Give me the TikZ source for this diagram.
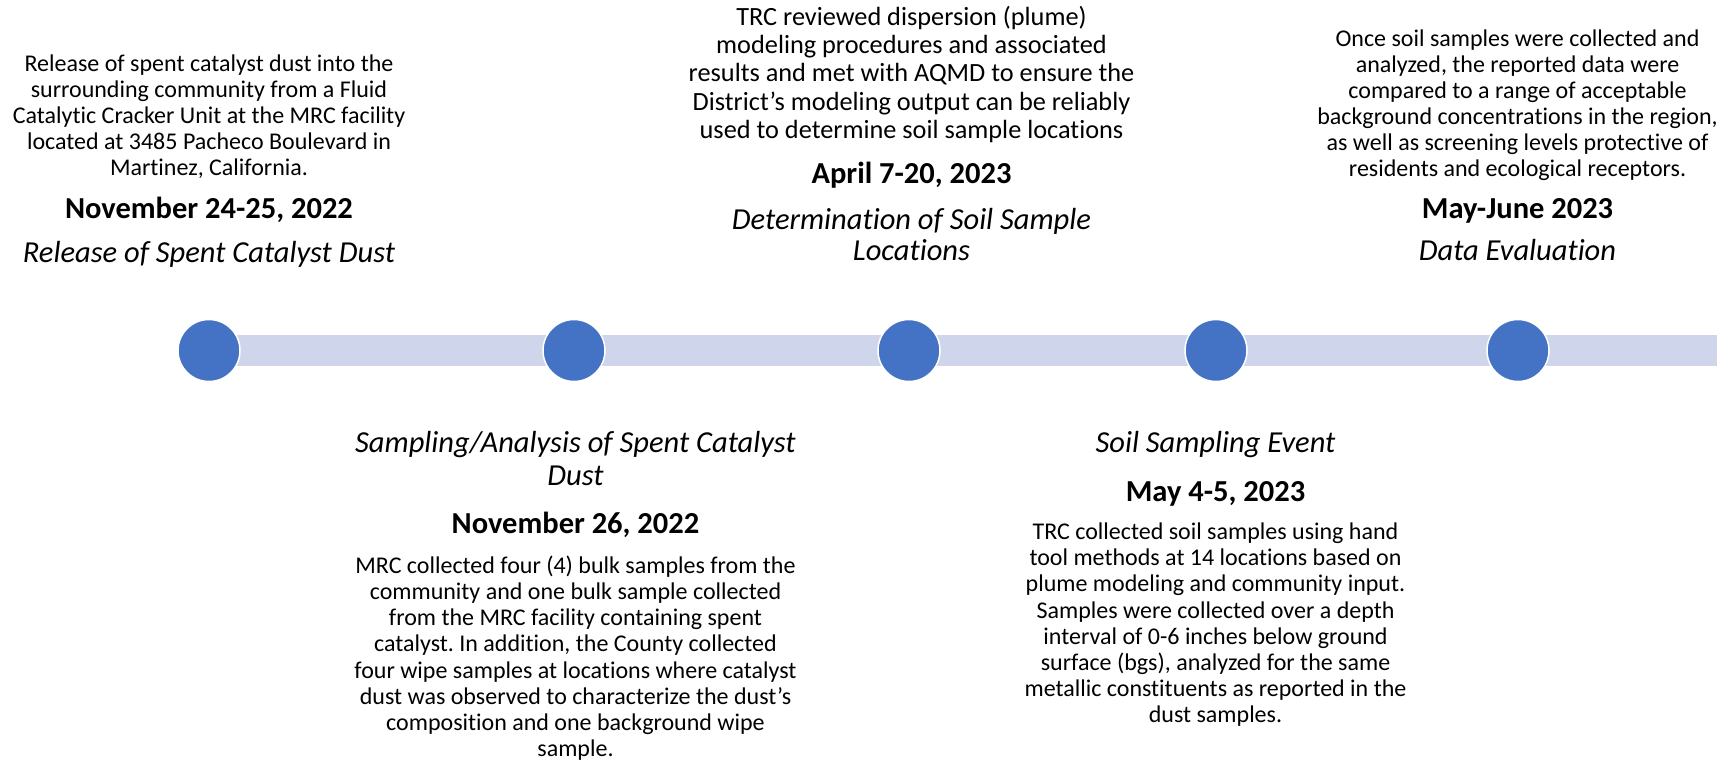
\documentclass[tikz,border=0pt]{standalone}
\usepackage{fontspec}
\setmainfont{Carlito}[Ligatures=NoCommon]
\frenchspacing
\definecolor{barcol}{HTML}{CFD5EA}
\definecolor{dotcol}{HTML}{4472C4}
\begin{document}
\begin{tikzpicture}[x=1pt,y=-1pt,
  dot/.style={circle, fill=dotcol, draw=white, line width=1.5pt, minimum size=62pt, inner sep=0pt},
  desc/.style={font=\fontsize{24}{26}\selectfont, align=center, anchor=north, inner sep=0pt},
  descbig/.style={font=\fontsize{26.3}{28.3}\selectfont, align=center, anchor=north, inner sep=0pt},
  descbot/.style={font=\fontsize{24}{26.2}\selectfont, align=center, anchor=north, inner sep=0pt},
  datetxt/.style={font=\fontsize{30.5}{32}\selectfont\bfseries, anchor=base, inner sep=0pt},
  titletxt/.style={font=\fontsize{30.5}{32}\selectfont\itshape, anchor=base, inner sep=0pt},
  titlemulti/.style={font=\fontsize{30.5}{32}\selectfont\itshape, align=center, anchor=north, inner sep=0pt}]
\useasboundingbox (0,0) rectangle (1729,763);
% timeline positions
\coordinate (p1) at (209,350.5);
\coordinate (p2) at (574,350.5);
\coordinate (p3) at (909,350.5);
\coordinate (p4) at (1216,350.5);
\coordinate (p5) at (1518,350.5);
\coordinate (barend) at (1717,350.5);
\draw[barcol, line width=31pt] (p1) -- (barend);
\node[dot] (c1) at (p1) {};
\node[dot] (c2) at (p2) {};
\node[dot] (c3) at (p3) {};
\node[dot] (c4) at (p4) {};
\node[dot] (c5) at (p5) {};
% Block 1 (top)
\node[desc] (d1) at (209,51.7) {\rule{0pt}{20pt}Release of spent catalyst dust into the\\surrounding community from a Fluid\\Catalytic Cracker Unit at the MRC facility\\located at 3485 Pacheco Boulevard in\\Martinez, California.};
\node[datetxt] (dt1) at (209,218) {November 24-25, 2022};
\node[titletxt] (t1) at (209,262) {Release of Spent Catalyst Dust};
% Block 2 (bottom)
\node[titlemulti, font=\fontsize{30.5}{33}\selectfont\itshape] (t2) at (575.5,426) {\rule{0pt}{26pt}Sampling/Analysis of Spent Catalyst\\Dust};
\node[datetxt] (dt2) at (575.5,533) {November 26, 2022};
\node[descbot] (d2) at (575.5,553) {\rule{0pt}{20pt}MRC collected four (4) bulk samples from the\\community and one bulk sample collected\\from the MRC facility containing spent\\catalyst. In addition, the County collected\\four wipe samples at locations where catalyst\\dust was observed to characterize the dust’s\\composition and one background wipe\\sample.};
% Block 3 (top)
\node[descbig] (d3) at (911.5,3) {\rule{0pt}{22pt}TRC reviewed dispersion (plume)\\modeling procedures and associated\\results and met with AQMD to ensure the\\District’s modeling output can be reliably\\used to determine soil sample locations};
\node[datetxt] (dt3) at (911.5,183) {April 7-20, 2023};
\node[titlemulti, font=\fontsize{30.5}{31}\selectfont\itshape] (t3) at (911.5,203) {\rule{0pt}{26pt}Determination of Soil Sample\\Locations};
% Block 4 (bottom)
\node[titletxt] (t4) at (1215.5,452) {Soil Sampling Event};
\node[datetxt] (dt4) at (1215.5,501.5) {May 4-5, 2023};
\node[descbot] (d4) at (1215.5,519.3) {\rule{0pt}{20pt}TRC collected soil samples using hand\\tool methods at 14 locations based on\\plume modeling and community input.\\Samples were collected over a depth\\interval of 0-6 inches below ground\\surface (bgs), analyzed for the same\\metallic constituents as reported in the\\dust samples.};
% Block 5 (top)
\node[desc] (d5) at (1517.5,26) {\rule{0pt}{20pt}Once soil samples were collected and\\analyzed, the reported data were\\compared to a range of acceptable\\background concentrations in the region,\\as well as screening levels protective of\\residents and ecological receptors.};
\node[datetxt] (dt5) at (1517.5,218) {May-June 2023};
\node[titletxt] (t5) at (1517.5,260) {Data Evaluation};
\end{tikzpicture}
\end{document}
